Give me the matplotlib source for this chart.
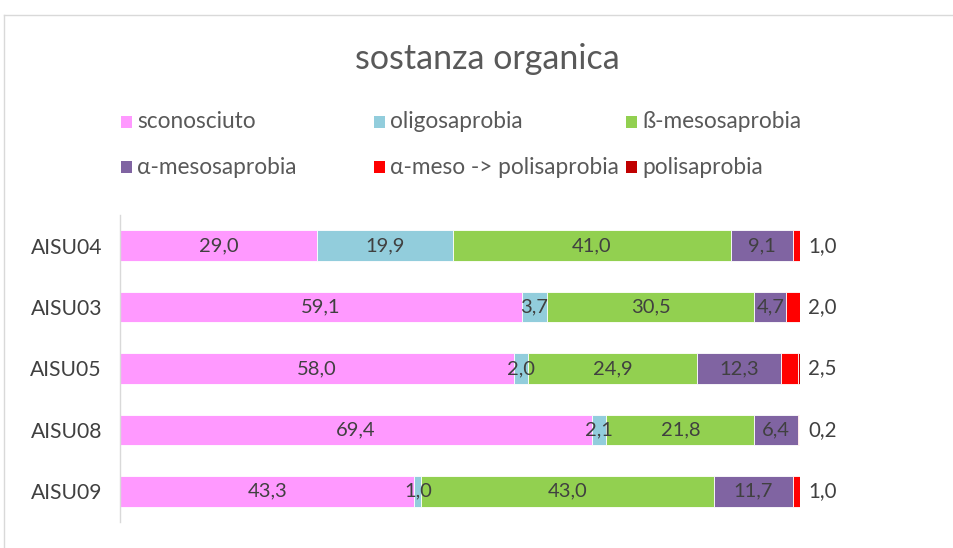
import matplotlib
matplotlib.use("Agg")
import matplotlib.pyplot as plt
from matplotlib.patches import Rectangle
from matplotlib.lines import Line2D
import numpy as np

plt.rcParams["font.family"] = ["Lato", "DejaVu Sans"]

stations = ["AISU04", "AISU03", "AISU05", "AISU08", "AISU09"]
series = ["sconosciuto", "oligosaprobia", "ß-mesosaprobia",
          "α-mesosaprobia", "α-meso -> polisaprobia", "polisaprobia"]
colors = ["#FF99FF", "#92CDDC", "#92D050", "#8064A2", "#FF0000", "#C00000"]

sconosciuto = [29.0, 59.1, 58.0, 69.4, 43.3]
oligosaprobia = [19.9, 3.7, 2.0, 2.1, 1.0]
beta_meso = [41.0, 30.5, 24.9, 21.8, 43.0]
alpha_meso = [9.1, 4.7, 12.3, 6.4, 11.7]
alpha_poli = [1.0, 2.0, 2.5, 0.2, 1.0]
polisaprobia = [0.0, 0.0, 0.3, 0.0, 0.0]

values = [sconosciuto, oligosaprobia, beta_meso, alpha_meso, alpha_poli, polisaprobia]

W, H = 954, 548
fig = plt.figure(figsize=(W / 100, H / 100), dpi=100)
ax = fig.add_axes([120 / W, 1 - 522 / H, 680 / W, 307 / H])

text_color = "#404040"
y = np.arange(len(stations))
lefts = np.zeros(len(stations))
for k, (name, vals, col) in enumerate(zip(series, values, colors)):
    vals = np.array(vals)
    ax.barh(y, vals, 0.5, left=lefts, color=col, edgecolor="white", linewidth=0.6)
    for i, (v, l) in enumerate(zip(vals, lefts)):
        label = f"{v:.1f}".replace(".", ",")
        if k < 4:
            ax.text(l + v / 2, i, label, ha="center", va="center",
                    fontsize=14.5, color=text_color)
        elif k == 4:
            # the α-meso -> polisaprobia value sits just outside the bar
            ax.text(101.2, i, label, ha="left", va="center",
                    fontsize=14.8, color=text_color)
    lefts += vals

ax.set_xlim(0, 100)
ax.set_ylim(4.5, -0.5)
ax.set_yticks(y)
ax.set_yticklabels(stations, fontsize=15.2, color=text_color)
ax.tick_params(axis="y", length=0, pad=13)
ax.set_xticks([])
for s in ["top", "right", "bottom"]:
    ax.spines[s].set_visible(False)
ax.spines["left"].set_color("#D9D9D9")
ax.spines["left"].set_linewidth(1)

fig.text(487 / W, 1 - 59 / H, "sostanza organica", ha="center", va="center",
         fontsize=24.5, color="#595959")

# legend, Excel style: three equal columns
col_x = [120, 373, 625]
row_y = [122, 167]
for i, (name, col) in enumerate(zip(series, colors)):
    cx = col_x[i % 3]
    cy = row_y[i // 3]
    fig.add_artist(Rectangle(((cx + 1) / W, 1 - (cy + 6) / H), 11 / W, 12 / H,
                             transform=fig.transFigure, facecolor=col,
                             edgecolor="none"))
    fig.text((cx + 17) / W, 1 - cy / H, name, ha="left", va="center",
             fontsize=16.3, color="#595959")

# chart area border (cropped at right and bottom)
fig.add_artist(Line2D([4.5 / W, 4.5 / W], [0, 1 - 14.5 / H],
                      transform=fig.transFigure, color="#D9D9D9", lw=1))
fig.add_artist(Line2D([4.5 / W, 1], [1 - 14.5 / H, 1 - 14.5 / H],
                      transform=fig.transFigure, color="#D9D9D9", lw=1))

fig.savefig("out.png", dpi=100, facecolor="white")
